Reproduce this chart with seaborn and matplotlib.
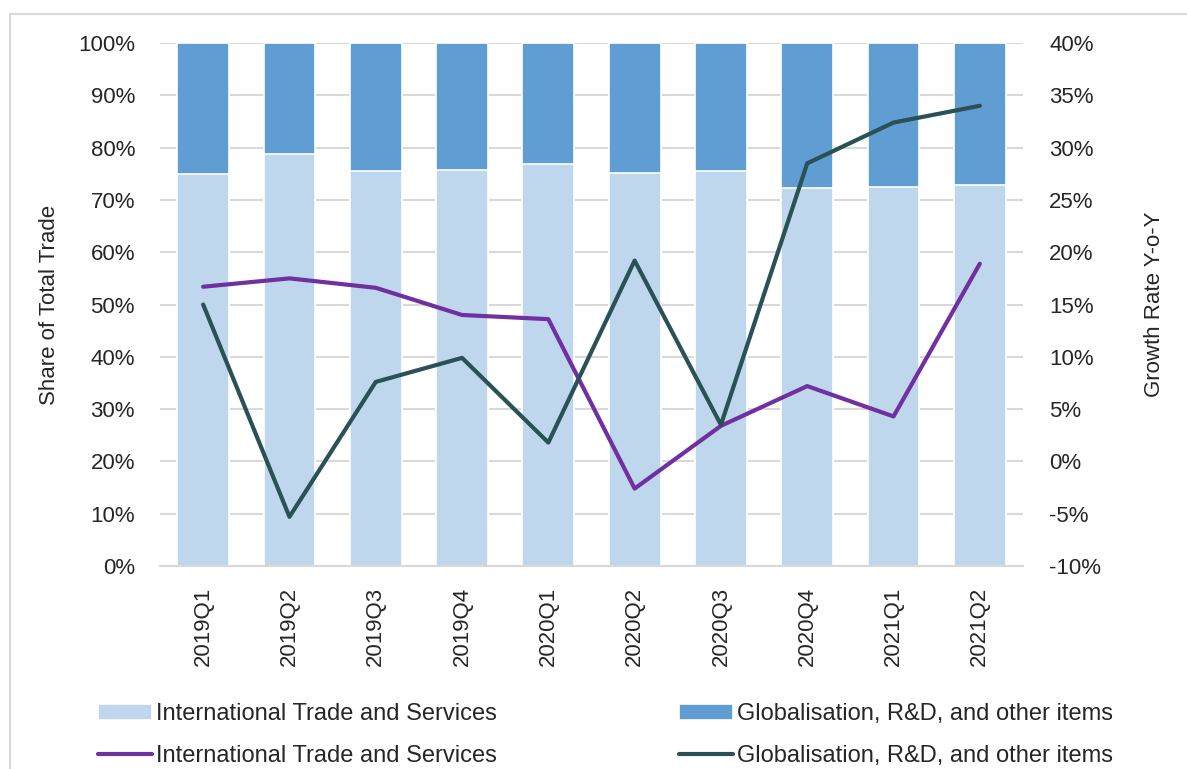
import numpy as np
import pandas as pd
import seaborn as sns
import matplotlib.pyplot as plt
from matplotlib.patches import Rectangle
from matplotlib.ticker import FuncFormatter

quarters = ["2019Q1", "2019Q2", "2019Q3", "2019Q4", "2020Q1",
            "2020Q2", "2020Q3", "2020Q4", "2021Q1", "2021Q2"]
# share of total trade (%)
share_its = [74.9, 78.8, 75.6, 75.7, 76.8, 75.1, 75.5, 72.3, 72.4, 72.8]
share_glob = [25.1, 21.2, 24.4, 24.3, 23.2, 24.9, 24.5, 27.7, 27.6, 27.2]
# growth rate y-o-y (%)
growth_its = [16.7, 17.5, 16.6, 14.0, 13.6, -2.6, 3.4, 7.2, 4.3, 18.9]
growth_glob = [15.0, -5.3, 7.6, 9.9, 1.8, 19.2, 3.5, 28.5, 32.4, 34.0]

lbl_its = "International Trade and Services"
lbl_glob = "Globalisation, R&D, and other items"

df = pd.DataFrame({"quarter": quarters,
                   "its": share_its,
                   "total": np.array(share_its) + np.array(share_glob),
                   "g_its": growth_its,
                   "g_glob": growth_glob})

sns.set_theme(style="white")
plt.rcParams["font.family"] = ["Liberation Sans", "DejaVu Sans"]

fig = plt.figure(figsize=(11.87, 7.69), dpi=100)
ax = fig.add_axes([0.1348, 0.264, 0.727, 0.680])

# stacked bars: full height in dark blue, ITS share over it in light blue
sns.barplot(data=df, x="quarter", y="total", color="#5F9DD2", saturation=1,
            width=0.6, edgecolor="white", linewidth=1.2, ax=ax, label=lbl_glob)
sns.barplot(data=df, x="quarter", y="its", color="#BFD7ED", saturation=1,
            width=0.6, edgecolor="white", linewidth=1.2, ax=ax, label=lbl_its)
h1, l1 = ax.get_legend_handles_labels()
if ax.get_legend() is not None:
    ax.get_legend().remove()

ax.set_ylim(0, 100)
ax.set_xlim(-0.5, 9.5)
ax.set_yticks(np.arange(0, 101, 10))
ax.yaxis.set_major_formatter(FuncFormatter(lambda v, p: f"{v:.0f}%"))
ax.grid(axis="y", color="#d9d9d9", linewidth=1.5)
ax.set_axisbelow(True)
for s in ["top", "right", "left"]:
    ax.spines[s].set_visible(False)
ax.spines["bottom"].set_color("#d9d9d9")
ax.spines["bottom"].set_linewidth(1.5)
ax.tick_params(axis="x", length=0, pad=15, labelsize=16, rotation=90)
ax.tick_params(axis="y", length=0, pad=18, labelsize=16)
ax.set_xlabel("")
ax.set_ylabel("Share of Total Trade", fontsize=16)
ax.yaxis.set_label_coords(-0.116, 0.5)

ax2 = ax.twinx()
ax2.plot(np.arange(len(quarters)), df["g_its"], color="#7030A0", lw=3,
         label=lbl_its, solid_capstyle="round")
ax2.plot(np.arange(len(quarters)), df["g_glob"], color="#2A5155", lw=3,
         label=lbl_glob, solid_capstyle="round")
ax2.set_ylim(-10, 40)
ax2.set_yticks(np.arange(-10, 41, 5))
ax2.yaxis.set_major_formatter(FuncFormatter(lambda v, p: f"{v:.0f}%"))
for s in ax2.spines.values():
    s.set_visible(False)
ax2.tick_params(axis="y", length=0, pad=19, labelsize=16)
ax2.set_ylabel("Growth Rate Y-o-Y", fontsize=16)
ax2.yaxis.set_label_coords(1.14, 0.5)

h2, l2 = ax2.get_legend_handles_labels()
bars = {l: h for h, l in zip(h1, l1)}
lines = {l: h for h, l in zip(h2, l2)}
handles = [bars[lbl_its], lines[lbl_its], bars[lbl_glob], lines[lbl_glob]]
labels = [lbl_its, lbl_its, lbl_glob, lbl_glob]
fig.legend(handles, labels, loc="center", bbox_to_anchor=(0.51, 0.044),
           ncol=2, frameon=False, fontsize=17, handlelength=2.3,
           handletextpad=0.15, columnspacing=7.7, labelspacing=0.85)

# chart area border
fig.patches.append(Rectangle((10 / 1187, -0.1), 1.2, 1 - 14 / 769 + 0.1,
                             transform=fig.transFigure, fill=False,
                             edgecolor="#d9d9d9", linewidth=1.5))

fig.savefig("out.png", dpi=100)
